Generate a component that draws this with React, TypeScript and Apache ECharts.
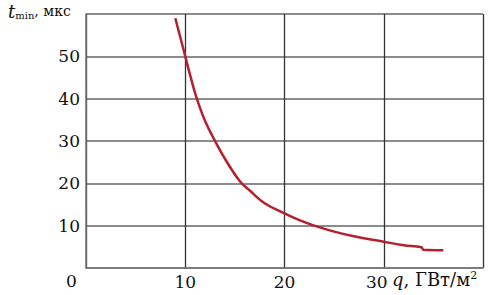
import React, { useEffect, useRef } from "react";
import * as echarts from "echarts";

const qValues = [9, 9.5, 10, 10.5, 11.1, 12, 13, 14, 15.5, 16.5, 18, 20, 21.5, 23, 25, 27, 30, 32, 33.8, 34, 36];
const tValues = [59, 54.5, 50, 45.5, 40.5, 34.7, 30, 25.8, 20.5, 18.3, 15.3, 12.9, 11.3, 10, 8.6, 7.5, 6.2, 5.4, 4.9, 4.3, 4.2];
const xTicks = [0, 10, 20, 30, 40];
const yTicks = [0, 10, 20, 30, 40, 50, 60];

const FONT = "DejaVu Serif";

export default function App() {
  const ref = useRef<HTMLDivElement>(null);
  useEffect(() => {
    if (!ref.current) return;
    const chart = echarts.init(ref.current, null, { renderer: "svg" });
    const data = qValues.map((q, i) => [q, tValues[i]]);
    chart.setOption({
      animation: false,
      grid: { left: 86, right: 10, top: 14, bottom: 27, containLabel: false },
      xAxis: {
        type: "value",
        min: xTicks[0],
        max: xTicks[xTicks.length - 1],
        interval: 10,
        axisLine: { show: true, lineStyle: { color: "#777", width: 1.5 } },
        axisTick: { show: false },
        splitLine: { show: true, lineStyle: { color: "#333", width: 1.3 } },
        axisLabel: {
          margin: 5,
          color: "#111",
          fontFamily: FONT,
          fontSize: 17,
          formatter: (v: number) => (v === 0 || v === 40 ? "" : v === 30 ? "{s|30}" : String(v)),
          rich: { s: { fontFamily: FONT, fontSize: 17, color: "#111", padding: [0, 14, 0, 0] } },
        },
      },
      yAxis: {
        type: "value",
        min: yTicks[0],
        max: yTicks[yTicks.length - 1],
        interval: 10,
        axisLine: { show: true, lineStyle: { color: "#777", width: 1.5 } },
        axisTick: { show: false },
        splitLine: { show: true, lineStyle: { color: "#666", width: 1.5 } },
        axisLabel: {
          margin: 6,
          color: "#111",
          fontFamily: FONT,
          fontSize: 17,
          formatter: (v: number) => (v === 0 || v === 60 ? "" : String(v)),
        },
      },
      series: [
        {
          type: "line",
          data,
          smooth: 0.4,
          showSymbol: false,
          lineStyle: { color: "#b3202e", width: 2.5 },
        },
      ],
      graphic: [
        {
          type: "text",
          left: 66,
          top: 272,
          style: { text: "0", font: `17px '${FONT}'`, fill: "#111" },
        },
        {
          type: "text",
          left: 392,
          top: 270,
          style: {
            text: "{i|q}{n|, ГВт/м}{p|2}",
            rich: {
              i: { font: `italic 18px '${FONT}'`, fill: "#111" },
              n: { font: `18px '${FONT}'`, fill: "#111" },
              p: { font: `11px '${FONT}'`, fill: "#111", verticalAlign: "top", padding: [0, 0, 8, 0] },
            },
          },
        },
        {
          type: "text",
          left: 8,
          top: 2,
          style: {
            text: "{i|t}{s|min}{n|, мкс}",
            rich: {
              i: { font: `italic 18px '${FONT}'`, fill: "#111" },
              s: { font: `10px '${FONT}'`, fill: "#111", padding: [8, 0, 0, 0] },
              n: { font: `14px '${FONT}'`, fill: "#111" },
            },
          },
        },
      ],
    });
    return () => chart.dispose();
  }, []);
  return <div ref={ref} style={{ width: 493, height: 295, position: "fixed", left: 0, top: 0, background: "#fff" }} />;
}
